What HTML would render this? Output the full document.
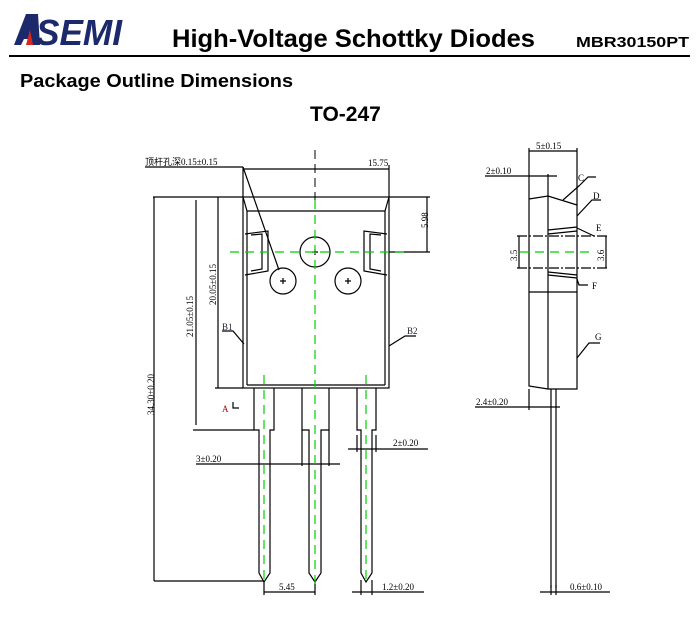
<!DOCTYPE html>
<html><head><meta charset="utf-8"><style>
body{margin:0;background:#fff;width:700px;height:620px;overflow:hidden}
svg{display:block}
</style></head><body>
<svg width="700" height="620" viewBox="0 0 700 620" xmlns="http://www.w3.org/2000/svg" font-family="Liberation Serif, serif">
<g>
<polygon points="14,45 26,14 38,14 40,45 32,45 31,39 24,39 21,45" fill="#1c2a6b"/>
<polygon points="26,45 30,30 33,45" fill="#d8261d"/>
<text x="36" y="45" font-family="Liberation Sans, sans-serif" font-weight="bold" font-style="italic" font-size="36" fill="#1c2a6b" textLength="86" lengthAdjust="spacingAndGlyphs">SEMI</text>
<text x="172" y="47" font-family="Liberation Sans, sans-serif" font-weight="bold" font-size="25" fill="#000" textLength="363" lengthAdjust="spacingAndGlyphs">High-Voltage Schottky Diodes</text>
<text x="576" y="47" font-family="Liberation Sans, sans-serif" font-weight="bold" font-size="15" fill="#000" textLength="113" lengthAdjust="spacingAndGlyphs">MBR30150PT</text>
<line x1="9" y1="56" x2="690" y2="56" stroke="#000" stroke-width="2"/>
<text x="20" y="87" font-family="Liberation Sans, sans-serif" font-weight="bold" font-size="18" fill="#000" textLength="273" lengthAdjust="spacingAndGlyphs">Package Outline Dimensions</text>
<text x="310" y="121" font-family="Liberation Sans, sans-serif" font-weight="bold" font-size="21" fill="#000">TO-247</text>
</g>
<g stroke="#000" stroke-width="1.2" fill="none">
<rect x="243" y="197" width="146" height="191"/>
<line x1="247" y1="211" x2="247" y2="385"/><line x1="385" y1="211" x2="385" y2="385"/>
<line x1="247" y1="385" x2="385" y2="385"/>
<polyline points="243,197 247,211 385,211 389,197"/>
<polyline points="245,234 268,231 268,271 245,275"/><polyline points="251,235 262,234 262,269 251,271"/>
<polyline points="387,234 364,231 364,271 387,275"/><polyline points="381,235 370,234 370,269 381,271"/>
<circle cx="315" cy="252" r="15"/><circle cx="283" cy="281" r="13"/><circle cx="348" cy="281" r="13"/>
<path d="M312,252h6M315,249v6M280,281h6M283,278v6M345,281h6M348,278v6"/>
<line x1="243" y1="169" x2="389" y2="169"/><line x1="243" y1="167" x2="243" y2="197"/><line x1="389" y1="165" x2="389" y2="197"/>
<line x1="145" y1="167" x2="243" y2="167"/><line x1="243" y1="167" x2="279" y2="270"/>
<line x1="153" y1="197" x2="243" y2="197"/><line x1="389" y1="197" x2="430" y2="197"/><line x1="389" y1="252" x2="430" y2="252"/><line x1="427" y1="197" x2="427" y2="252"/>
<line x1="154" y1="197" x2="154" y2="581"/><line x1="196" y1="200" x2="196" y2="425"/><line x1="218" y1="197" x2="218" y2="388"/>
<line x1="215" y1="388" x2="243" y2="388"/><line x1="193" y1="430" x2="254" y2="430"/><line x1="154" y1="581" x2="264" y2="581"/>
<polyline points="233,402 233,408 239,408"/>
<polyline points="222,331 233,331 244,344"/><polyline points="416,336 405,336 389,346"/>
<polyline points="254,388 254,430 259,430 259,573 264,582 270,573 270,430 274,430 274,388"/>
<polyline points="302,388 302,430 309,430 309,573 315,582 321,573 321,430 329,430 329,388"/>
<polyline points="357,388 357,430 361,430 361,573 366,582 372,573 372,430 376,430 376,388"/>
<line x1="196" y1="464" x2="340" y2="464"/><line x1="302" y1="430" x2="302" y2="466"/><line x1="329" y1="430" x2="329" y2="466"/>
<line x1="348" y1="449" x2="428" y2="449"/><line x1="357" y1="435" x2="357" y2="452"/><line x1="376" y1="435" x2="376" y2="452"/>
<line x1="264" y1="582" x2="264" y2="595"/><line x1="315" y1="582" x2="315" y2="595"/><line x1="264" y1="592" x2="315" y2="592"/>
<line x1="352" y1="592" x2="424" y2="592"/><line x1="361" y1="580" x2="361" y2="595"/><line x1="372" y1="580" x2="372" y2="595"/>
<polyline points="529,199 548,196 577,205 577,389 548,389 529,386 529,199"/>
<line x1="548" y1="174" x2="548" y2="389"/>
<line x1="529" y1="151" x2="577" y2="151"/><line x1="529" y1="148" x2="529" y2="199"/><line x1="577" y1="148" x2="577" y2="205"/>
<line x1="485" y1="176" x2="557" y2="176"/>
<polyline points="548,230 577,227"/><polyline points="548,234 577,231"/><line x1="577" y1="228" x2="594" y2="236"/>
<polyline points="548,275 577,278"/><polyline points="548,272 577,275"/>
<line x1="517" y1="236" x2="608" y2="236" stroke-dasharray="10,2,2,2"/><line x1="517" y1="268" x2="608" y2="268" stroke-dasharray="10,2,2,2"/>
<line x1="519" y1="236" x2="519" y2="268"/><line x1="606" y1="236" x2="606" y2="268"/>
<line x1="529" y1="292" x2="577" y2="292"/>
<polyline points="580,185 563,200"/><polyline points="601,200 592,200 577,216"/>
<polyline points="588,285 579,285 577,279"/><polyline points="600,343 589,343 577,358"/>
<line x1="551" y1="389" x2="551" y2="588"/><line x1="556" y1="389" x2="556" y2="588"/>
<line x1="475" y1="407" x2="560" y2="407"/><line x1="529" y1="389" x2="529" y2="410"/>
<line x1="540" y1="592" x2="610" y2="592"/><line x1="551" y1="585" x2="551" y2="595"/><line x1="556" y1="585" x2="556" y2="595"/>
<path d="M580,185l8,-8h8"/>
</g>
<g stroke="#00d000" stroke-width="1.2" stroke-dasharray="9,6" fill="none">
<line x1="230" y1="252" x2="404" y2="252"/>
<line x1="315" y1="200" x2="315" y2="588"/>
<line x1="264" y1="375" x2="264" y2="585"/><line x1="366" y1="375" x2="366" y2="585"/>
<line x1="520" y1="252" x2="593" y2="252"/>
</g>
<line x1="315" y1="150" x2="315" y2="200" stroke="#000" stroke-dasharray="9,5"/>
<g font-size="9" fill="#000">
<text x="145" y="165" font-family="Liberation Serif, Noto Sans CJK SC, serif">顶杆孔深0.15±0.15</text>
<text x="368" y="166">15.75</text>
<text transform="translate(428,228) rotate(-90)">5.98</text>
<text transform="translate(216,305) rotate(-90)">20.05±0.15</text>
<text transform="translate(193,337) rotate(-90)">21.05±0.15</text>
<text transform="translate(154,415) rotate(-90)">34.30±0.20</text>
<text x="222" y="330" fill="#223">B1</text><text x="407" y="334" fill="#223">B2</text>
<text x="222" y="412" fill="#a00">A</text>
<text x="196" y="462">3±0.20</text><text x="393" y="446">2±0.20</text>
<text x="279" y="590">5.45</text><text x="382" y="590">1.2±0.20</text>
<text x="536" y="149">5±0.15</text><text x="486" y="174">2±0.10</text>
<text x="578" y="181">C</text><text x="593" y="199">D</text><text x="596" y="231">E</text><text x="592" y="289">F</text><text x="595" y="340">G</text>
<text transform="translate(517,261) rotate(-90)">3.5</text><text transform="translate(604,261) rotate(-90)">3.6</text>
<text x="476" y="405">2.4±0.20</text><text x="570" y="590">0.6±0.10</text>
</g>
</svg>
</body></html>
